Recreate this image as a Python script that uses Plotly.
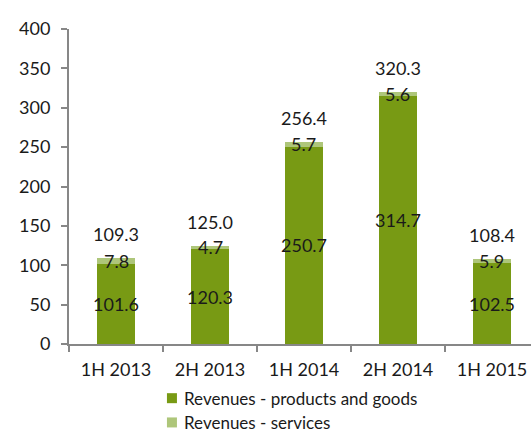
import plotly.graph_objects as go

# Half-year revenue split (in millions)
periods = ["1H 2013", "2H 2013", "1H 2014", "2H 2014", "1H 2015"]
products = [101.6, 120.3, 250.7, 314.7, 102.5]
services = [7.8, 4.7, 5.7, 5.6, 5.9]
totals = [109.3, 125.0, 256.4, 320.3, 108.4]
series_names = ["Revenues - products and goods", "Revenues - services"]

y_ticks = [0, 50, 100, 150, 200, 250, 300, 350, 400]

dark_green = "#789a14"
light_green = "#aec67a"
axis_grey = "#878787"
text_col = "#1a1a1a"
font_family = "Lato, 'Open Sans', sans-serif"

fig = go.Figure()
fig.add_trace(go.Bar(
    x=periods, y=products, name=series_names[0],
    marker=dict(color=dark_green, line=dict(width=0)),
))
fig.add_trace(go.Bar(
    x=periods, y=services, name=series_names[1],
    marker=dict(color=light_green, line=dict(width=0)),
))

label_font = dict(size=18, color=text_col, family=font_family)
annotations = []
for p, pv, sv, tv in zip(periods, products, services, totals):
    # product value centred in its segment
    annotations.append(dict(x=p, y=pv / 2, text=f"{pv:.1f}", showarrow=False,
                            xref="x", yref="y", yanchor="middle", font=label_font))
    # service value centred on the thin top segment
    annotations.append(dict(x=p, y=pv + sv / 2, text=f"{sv:.1f}", showarrow=False,
                            xref="x", yref="y", yanchor="middle", font=label_font))
    # total above the stack
    annotations.append(dict(x=p, y=pv + sv, text=f"{tv:.1f}", showarrow=False,
                            xref="x", yref="y", yanchor="middle", yshift=24,
                            font=label_font))

# Key below the axis: a swatch and a name per series, stacked in two rows
shapes = []
key_x = 0.212          # paper fraction of the swatch's left edge
key_rows = [-0.172, -0.249]
for name, colour, ky in zip(series_names, [dark_green, light_green], key_rows):
    shapes.append(dict(type="rect", xref="paper", yref="paper",
                       xsizemode="pixel", ysizemode="pixel",
                       xanchor=key_x, yanchor=ky,
                       x0=0, x1=10, y0=-5, y1=5,
                       fillcolor=colour, line=dict(width=0)))
    annotations.append(dict(x=key_x, y=ky, xref="paper", yref="paper",
                            xshift=15, xanchor="left", yanchor="middle",
                            text=name, showarrow=False,
                            font=dict(size=17, color=text_col, family=font_family)))

fig.update_layout(
    barmode="stack",
    bargap=0.6,
    width=531, height=432,
    margin=dict(l=69, r=0, t=29, b=88),
    paper_bgcolor="white",
    plot_bgcolor="white",
    font=dict(family=font_family, size=18, color=text_col),
    showlegend=False,
    annotations=annotations,
    shapes=shapes,
)

fig.update_xaxes(
    range=[-0.5, 4.415],
    showline=True, linecolor=axis_grey, linewidth=2,
    ticks="outside", ticklen=6, tickcolor=axis_grey, tickwidth=2,
    tickson="boundaries",
    ticklabelstandoff=8,
    showgrid=False, zeroline=False,
    tickfont=dict(size=18, color=text_col, family=font_family),
)
fig.update_yaxes(
    range=[0, 400],
    tickvals=y_ticks,
    showline=True, linecolor=axis_grey, linewidth=2,
    ticks="outside", ticklen=6, tickcolor=axis_grey, tickwidth=2,
    ticklabelstandoff=7,
    showgrid=False, zeroline=False,
    tickfont=dict(size=18, color=text_col, family=font_family),
)

fig.write_html("out.html")
